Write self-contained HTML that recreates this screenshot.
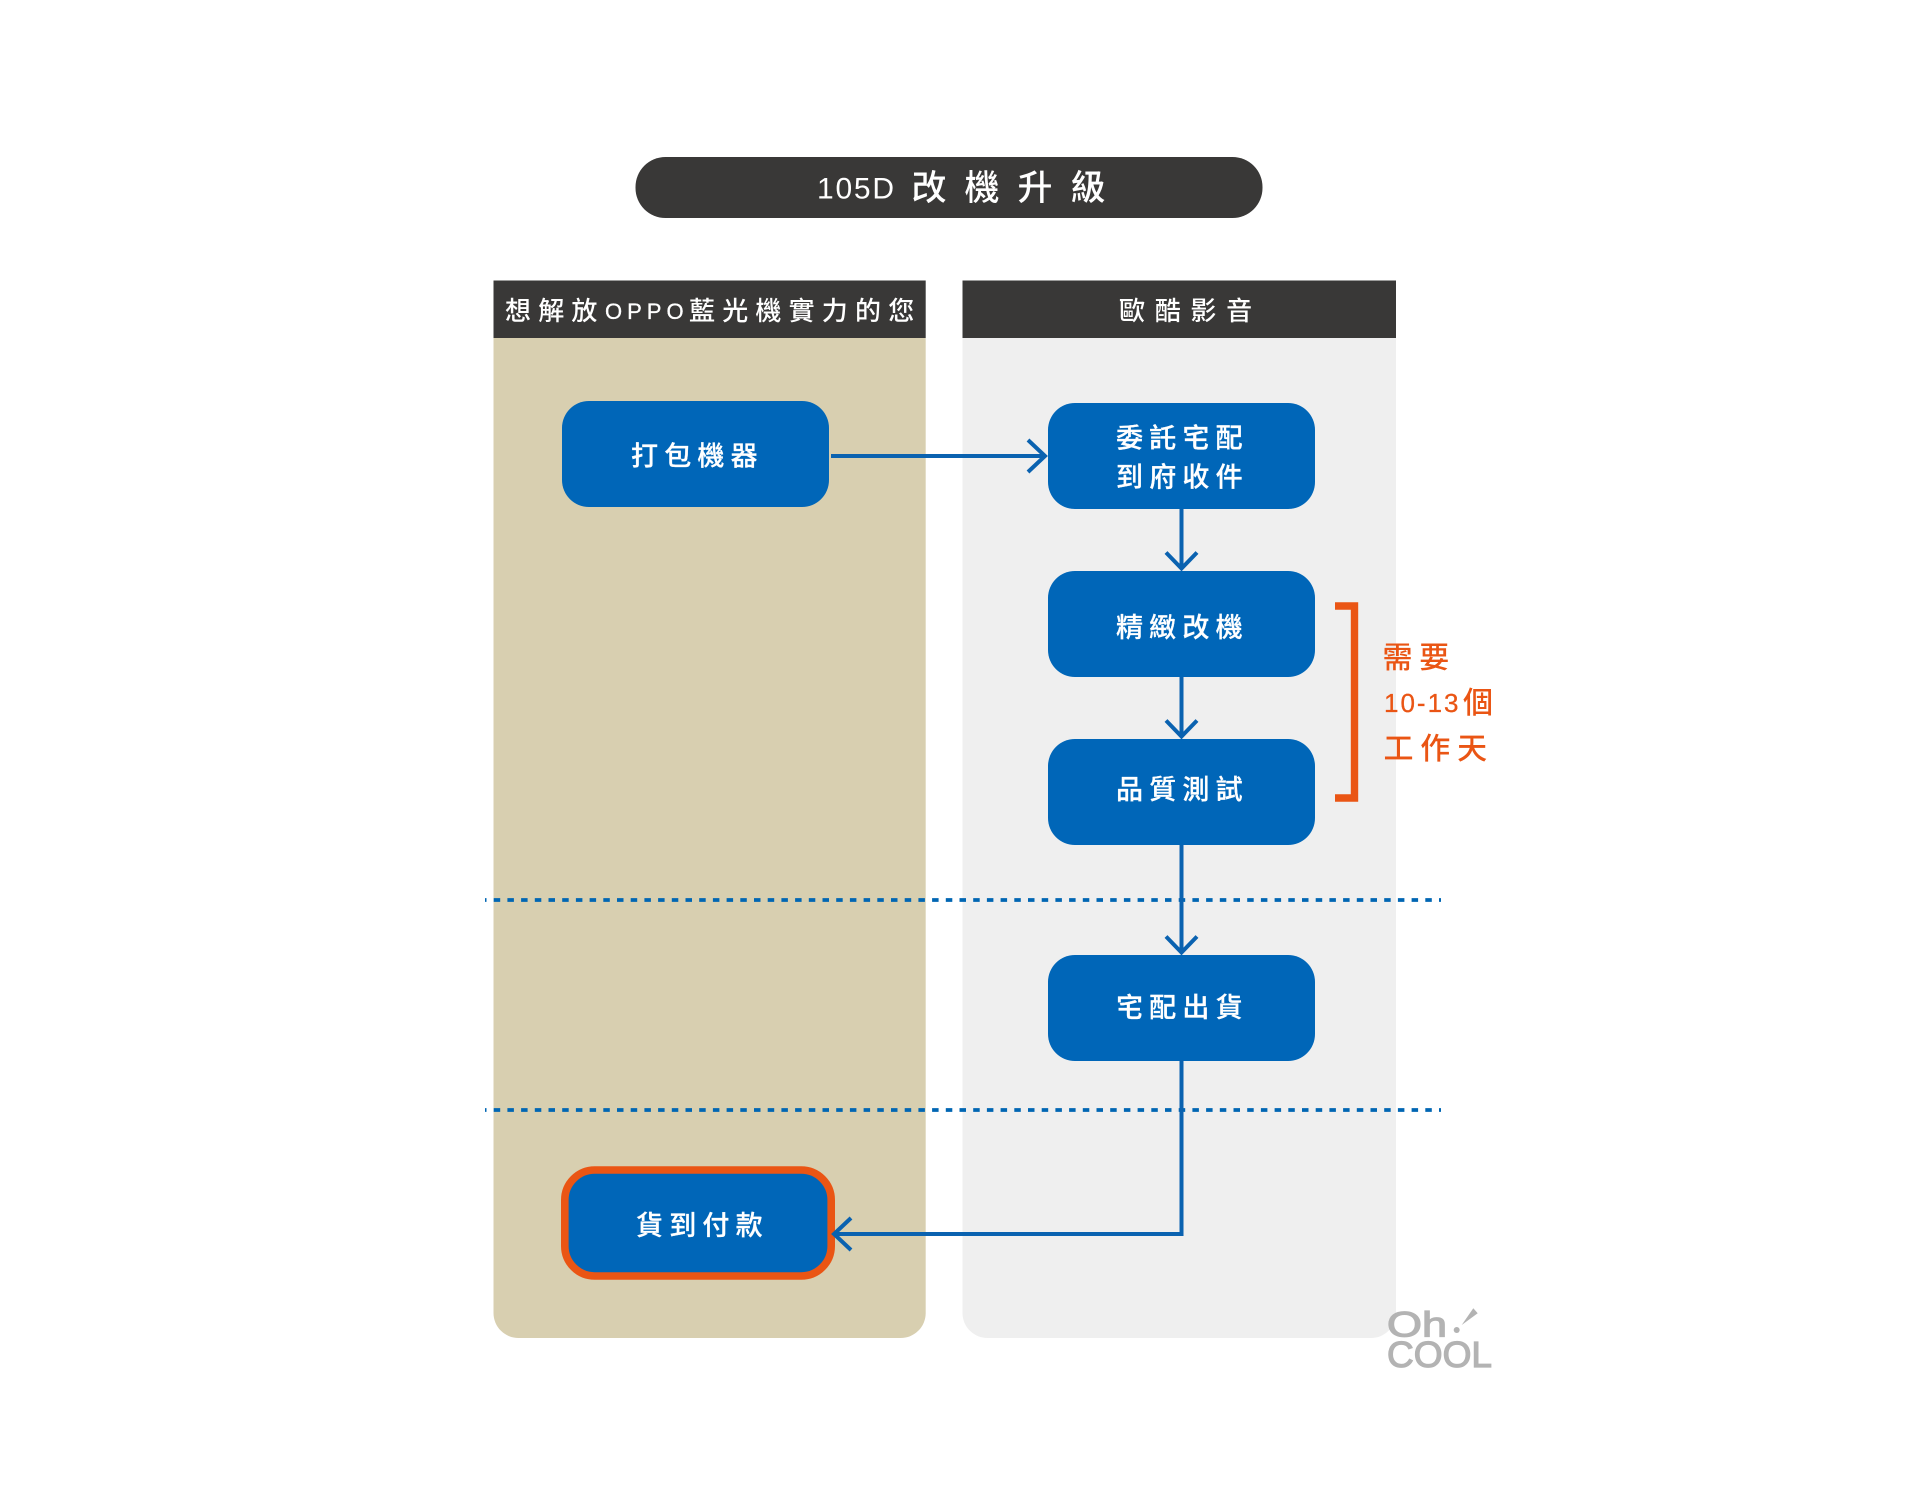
<!DOCTYPE html>
<html lang="zh-Hant"><head><meta charset="utf-8"><title>105D 改機升級</title>
<style>
html,body{margin:0;padding:0;background:#fff}
svg{display:block}
text{font-family:"Liberation Sans","Noto Sans CJK TC",sans-serif}
.n{fill:#fff;font-size:27px;letter-spacing:6.2px;font-weight:500;stroke:#fff;stroke-width:.25px}
.o{fill:#ea5514;font-size:30px;letter-spacing:6.8px;font-weight:500}
.h{fill:#fff;font-size:26px;letter-spacing:7.2px;font-weight:500}
</style></head><body>
<svg width="1920" height="1500" viewBox="0 0 1920 1500" xmlns="http://www.w3.org/2000/svg">
<rect width="1920" height="1500" fill="#fff"/>
<rect x="635.500" y="157" width="627" height="61" rx="30" fill="#393837"/>
<text x="817" y="198.500" fill="#fff" font-size="30" textLength="77" lengthAdjust="spacing">105D</text>
<text x="911.500" y="200" fill="#fff" font-size="35" letter-spacing="18" font-weight="500">改機升級</text>

<path d="M493.500 338H925.700V1313a25 25 0 0 1-25 25H518.500a25 25 0 0 1-25-25Z" fill="#d8cfb0"/>
<path d="M962.500 338H1396V1313a25 25 0 0 1-25 25H987.500a25 25 0 0 1-25-25Z" fill="#efefef"/>
<rect x="493.500" y="280.500" width="432.200" height="57.500" fill="#393837"/>
<rect x="962.500" y="280.500" width="433.500" height="57.500" fill="#393837"/>
<text class="h" x="505" y="320">想解放</text>
<text x="605" y="319" font-size="22" fill="#fff" letter-spacing="5" stroke="#fff" stroke-width=".3">OPPO</text>
<text class="h" x="689" y="320">藍光機實力的您</text>
<text class="h" x="1119" y="320" style="letter-spacing:9.7px">歐酷影音</text>

<path d="M485 900H1441M485 1110H1441" fill="none" stroke="#0066b3" stroke-width="3.800" stroke-dasharray="6.500 7.200" stroke-dashoffset="5"/>

<rect x="562" y="401" width="267" height="106" rx="27" fill="#0066b8"/>
<rect x="1048" y="403" width="267" height="106" rx="27" fill="#0066b8"/>
<rect x="1048" y="571" width="267" height="106" rx="27" fill="#0066b8"/>
<rect x="1048" y="739" width="267" height="106" rx="27" fill="#0066b8"/>
<rect x="1048" y="955" width="267" height="106" rx="27" fill="#0066b8"/>
<rect x="564.800" y="1170" width="266.400" height="106" rx="30" fill="#0066b8" stroke="#ea5514" stroke-width="7.600"/>

<g fill="none" stroke="#0a62b0" stroke-width="4">
<path d="M831 456H1045"/>
<path d="M1028 440L1045 456L1028 472"/>
<path d="M1181.500 509V569"/>
<path d="M1166 552.500L1181.500 568.500L1197 552.500"/>
<path d="M1181.500 677V737"/>
<path d="M1166 720.500L1181.500 736.500L1197 720.500"/>
<path d="M1181.500 845V953"/>
<path d="M1166 936.500L1181.500 952.500L1197 936.500"/>
<path d="M1181.500 1060V1234H834"/>
<path d="M851 1218L834 1234L851 1250"/>
</g>

<text class="n" x="631" y="465.500">打包機器</text>
<text class="n" x="1116" y="447.500">委託宅配</text>
<text class="n" x="1116" y="486.500">到府收件</text>
<text class="n" x="1116" y="637">精緻改機</text>
<text class="n" x="1116" y="799">品質測試</text>
<text class="n" x="1116" y="1017">宅配出貨</text>
<text class="n" x="636" y="1235">貨到付款</text>

<path d="M1335 606H1354.500V798H1335" fill="none" stroke="#ea5514" stroke-width="7.400"/>
<text class="o" x="1382.500" y="668">需要</text>
<text x="1384" y="712" font-size="26" fill="#ea5514" letter-spacing="2" stroke="#ea5514" stroke-width=".3">10-13</text>
<text class="o" x="1463" y="713">個</text>
<text class="o" x="1383.500" y="759">工作天</text>

<g fill="#b3b3b3" stroke="#b3b3b3" stroke-width="1.200">
<text x="1387" y="1336.500" font-size="35" textLength="60" lengthAdjust="spacingAndGlyphs">Oh</text>
<text x="1387" y="1367" font-size="36" textLength="105" lengthAdjust="spacingAndGlyphs">COOL</text>
</g>
<circle cx="1456.700" cy="1330" r="3" fill="#b3b3b3"/>
<path d="M1461.700 1325L1473.300 1308.300L1477.700 1313.300Z" fill="#b3b3b3"/>
</svg>
</body></html>
